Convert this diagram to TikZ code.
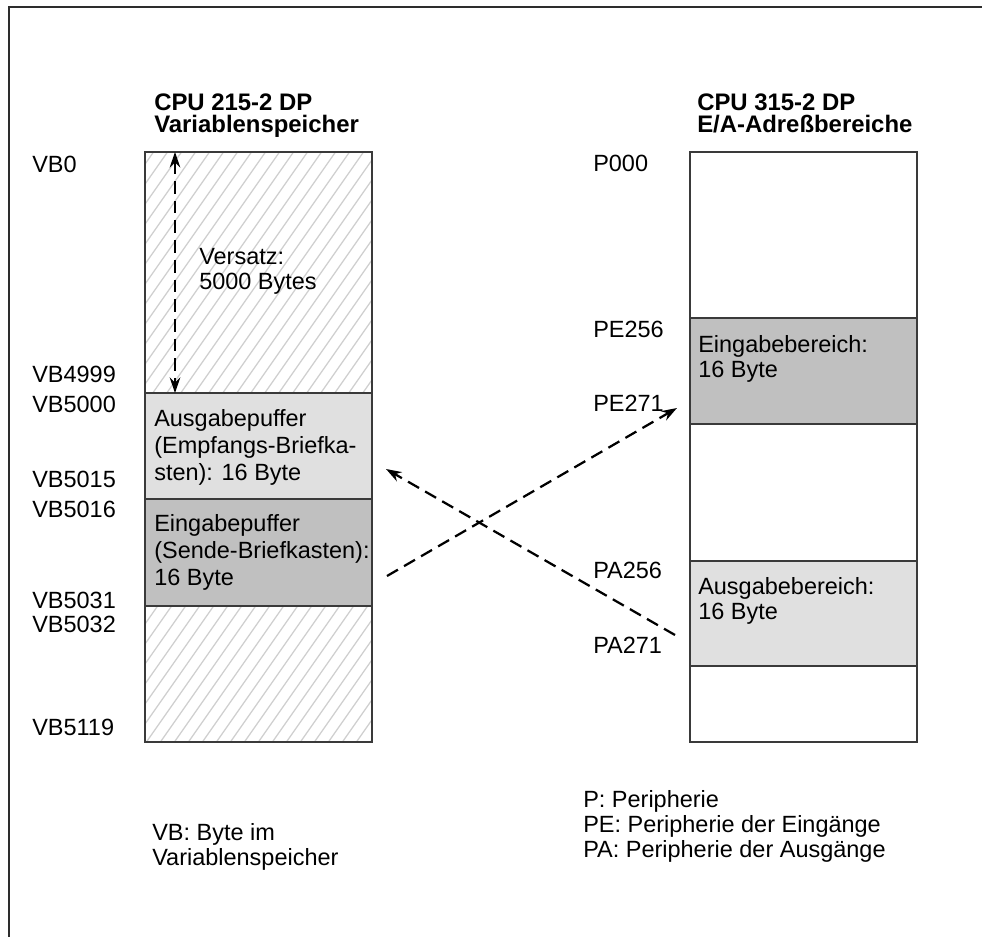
\documentclass[tikz,border=0pt]{standalone}
\usepackage{fontspec}
\setmainfont{Liberation Sans}
\usetikzlibrary{arrows.meta, positioning}
\definecolor{frameDark}{HTML}{2D2D2D}
\definecolor{lineDark}{HTML}{3A3A3A}
\definecolor{hatchGray}{HTML}{CFCFCF}
\definecolor{bufLight}{HTML}{E0E0E0}
\definecolor{bufDark}{HTML}{C0C0C0}

\begin{document}
\begin{tikzpicture}[
    txt/.style={font=\fontsize{16.7}{17.5}\selectfont, anchor=base west, inner sep=0pt, align=left},
    head/.style={txt, font=\fontsize{17}{15.6}\selectfont\bfseries},
    bufTxt/.style={txt, font=\fontsize{16.7}{19.2}\selectfont},
    memBox/.style={draw=lineDark, line width=0.9pt},
    hatchLine/.style={hatchGray, line width=0.9pt},
    flow/.style={line width=1.6pt, dash pattern=on 9pt off 5pt},
    tip/.tip={Stealth[length=11pt, width=7.5pt]}
  ]
    \useasboundingbox (0, 0) rectangle (24.55, -23.425);
    \draw[frameDark, line width=1.3pt] (24.55, -0.175) -- (0.225, -0.175) -- (0.225, -23.425);

    \begin{scope}
      \clip (3.625, -3.8) rectangle (9.3, -9.825) (3.625, -15.15) rectangle (9.3, -18.55);
      \foreach \k in {-30,...,17}
        \draw[hatchLine] (3.625 + \k*0.35, -18.6) -- ++(55:18.5);
    \end{scope}

    \fill[bufLight] (3.625, -9.825) rectangle (9.3, -12.475);
    \fill[bufDark] (3.625, -12.475) rectangle (9.3, -15.15);
    \draw[memBox] (3.625, -3.8) rectangle (9.3, -18.55);
    \draw[memBox] (3.625, -9.825) -- (9.3, -9.825);
    \draw[memBox] (3.625, -12.475) -- (9.3, -12.475);
    \draw[memBox] (3.625, -15.15) -- (9.3, -15.15);

    \fill[bufDark] (17.25, -7.95) rectangle (22.925, -10.6);
    \fill[bufLight] (17.25, -14.025) rectangle (22.925, -16.65);
    \draw[memBox] (17.25, -3.8) rectangle (22.925, -18.55);
    \draw[memBox] (17.25, -7.95) -- (22.925, -7.95);
    \draw[memBox] (17.25, -10.6) -- (22.925, -10.6);
    \draw[memBox] (17.25, -14.025) -- (22.925, -14.025);
    \draw[memBox] (17.25, -16.65) -- (22.925, -16.65);

    \node[head] (leftHead) at (3.85, -3.3) {CPU 215-2 DP\\Variablenspeicher};
    \node[head] (rightHead) at (17.425, -3.3) {CPU 315-2 DP\\E/A-Adreßbereiche};

    \node[txt] (vb0) at (0.8, -4.3) {VB0};
    \node[txt] (vb4999) at (0.8, -9.55) {VB4999};
    \node[txt] (vb5000) at (0.8, -10.3) {VB5000};
    \node[txt] (vb5015) at (0.8, -12.175) {VB5015};
    \node[txt] (vb5016) at (0.8, -12.925) {VB5016};
    \node[txt] (vb5031) at (0.8, -15.2) {VB5031};
    \node[txt] (vb5032) at (0.8, -15.8) {VB5032};
    \node[txt] (vb5119) at (0.8, -18.375) {VB5119};

    \node[txt] (p000) at (14.825, -4.275) {P000};
    \node[txt] (pe256) at (14.825, -8.425) {PE256};
    \node[txt] (pe271) at (14.825, -10.275) {PE271};
    \node[txt] (pa256) at (14.825, -14.45) {PA256};
    \node[txt] (pa271) at (14.825, -16.325) {PA271};

    \node[txt] (offset) at (4.975, -7.225) {Versatz:\\5000 Bytes};
    \node[bufTxt] (outBuf) at (3.85, -12.0) {Ausgabepuffer\\(Empfangs-Briefka-\\sten): 16 Byte};
    \node[bufTxt] (inBuf) at (3.85, -14.625) {Eingabepuffer\\(Sende-Briefkasten):\\16 Byte};
    \node[txt] (inArea) at (17.45, -9.425) {Eingabebereich:\\16 Byte};
    \node[txt] (outArea) at (17.45, -15.475) {Ausgabebereich:\\16 Byte};

    \node[txt] (vbNote) at (3.8, -21.625) {VB: Byte im\\Variablenspeicher};
    \node[txt] (pNote) at (14.575, -21.425) {P: Peripherie\\PE: Peripherie der Eingänge\\PA: Peripherie der Ausgänge};

    \coordinate (offTop) at (4.375, -3.8);
    \coordinate (offBot) at (4.375, -9.825);
    \coordinate (sendOut) at (9.675, -14.4);
    \coordinate (peIn) at (16.925, -10.2);
    \coordinate (paOut) at (16.875, -15.875);
    \coordinate (recvIn) at (9.65, -11.725);

    \draw[flow, tip-tip] (offTop) -- (offBot);
    \draw[flow, -tip] (sendOut) -- (peIn);
    \draw[flow, -tip] (paOut) -- (recvIn);
  \end{tikzpicture}
\end{document}
